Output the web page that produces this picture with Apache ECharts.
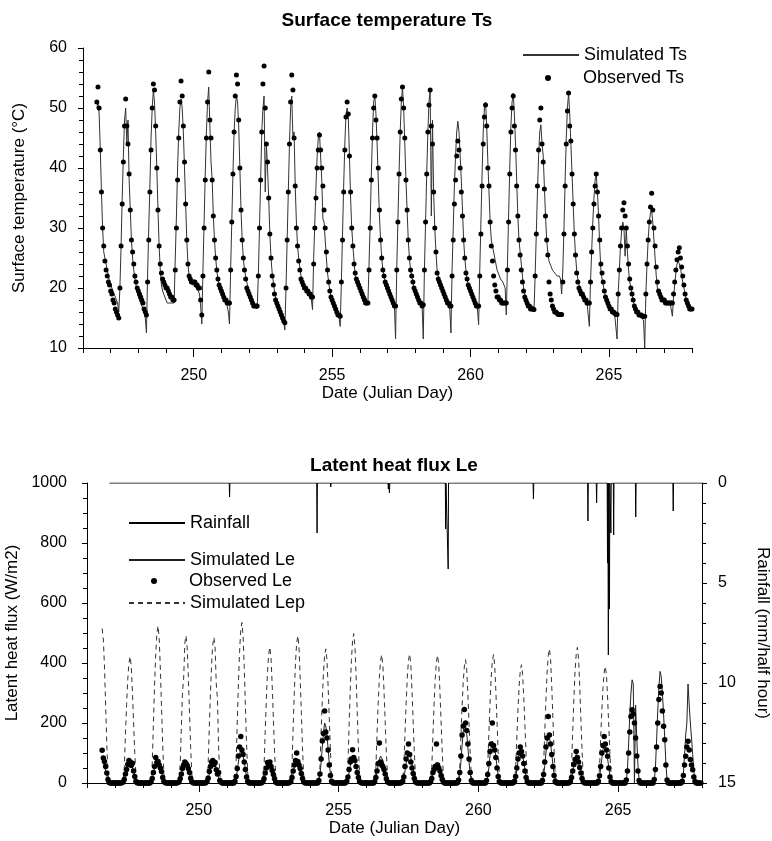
<!DOCTYPE html>
<html>
<head>
<meta charset="utf-8">
<script src="https://cdn.jsdelivr.net/npm/echarts@6/dist/echarts.min.js"></script>
<style>
  html, body { margin: 0; padding: 0; background: #fff; }
  #main { width: 772px; height: 841px; }
</style>
</head>
<body>
<div id="main"></div>
<script>
// Julian day of the first row in every table below
const firstDay = 246;
const xMajor = [250, 255, 260, 265];

// Surface temperature (deg C), one row per day, hours 0..23
const tsObs = [
  [null,null,null,null,null,null,null,null,null,null,null,null,51,53.5,50,43,36,30,27,24.5,23,22,21,20.5],
  [19.5,19,18,17.5,16.5,16,15.5,15,20,27,34,41,47,51.5,47,44,39,33,28,26,24,22,21,20],
  [19.5,19,18.5,18,17.5,16.5,16,15.5,21,28,36,43,50,54,53,47,40,33,27,24,22.5,21.5,21,20.5],
  [20,20,19.5,19,18.5,18.5,18,18,23,30,38,45,51,54.5,52,47,41,34,28,24,22,21.5,21,21],
  [21,21,20.5,20.5,20,20,18,15.5,22,30,38,45,51,56,48,45,38,32,28,25,23,21.5,20.5,20],
  [19.5,19,18.5,18,18,17.5,17.5,17.5,23,31,39,46,52,55.5,54,48,40,33,28,25,23,21.5,20,19.5],
  [19,18.5,18,17.5,17,17,17,17,22,30,38,46,54,57,50,44,41,35,29,25,22,20.5,19,18],
  [17.5,17,16.5,16,15.5,15,14.5,14.2,20,28,36,44,51,55.5,53,45,37,30,27,24.5,23,21.5,21,20.5],
  [20,20,19.5,19.5,19,19,18.5,18.5,24,30,35,40,43,45.5,43,40,37,33,30,26,23,21,19.5,18.5],
  [18,17.5,17,16.5,16,15.5,15.5,15.3,21,28,36,43,48.5,51,49,42,36,30,27,24,22.5,21.5,21,20.5],
  [20,19.5,19,18.5,18,17.5,17.5,17.5,23,30,38,45,50,52,48,45,40,33,28,25,23,22,21,20.5],
  [20,19.5,19,18.5,18,17.5,17,17,23,31,39,46,51.5,53.5,50,45,38,33,28,25,23,22,21,20],
  [19.5,19,18.5,18,17.5,17.5,17,17.2,23,31,39,46,50.5,53,47,44,36,30,26,22.5,21.5,21,20.5,20],
  [19.5,19,18.5,18,17.5,17.5,17,17,22,28,34,38,42,44.5,43,40,36,32,28,25,22.5,21.5,20.5,20],
  [19.5,19,18.5,18,17.5,17,17,17,22,29,37,44,48.5,50.5,47,40,37,31,27,24.5,22,20.5,19.5,18.5],
  [18.5,18,18,17.5,17.5,17.5,17.5,17.5,23,31,39,46,50,52,47,43,37,32,28,25.5,23,21,19.5,18.5],
  [18,17.5,17,17,16.5,16.5,16.5,16.4,22,29,37,43,48,50,44,41,36.5,32,28,25.5,21,19,18,17],
  [16.5,16,16,15.8,15.6,15.6,15.6,15.6,21,29,37,44,49.5,52.5,47,44.5,39,34,29,25.5,22.5,21,20,19.5],
  [19,19,18.5,18,18,17.5,17.5,17.5,21,26,30,34,37,39,36,32,28,24,22.5,21,19.5,18.5,18,17.5],
  [17,16.5,16.5,16,16,15.8,15.6,15.6,19,23,27,30,33,34.2,32,30,27,24,21.5,20,19,18,17,16.5],
  [16,16,15.5,15.5,15.5,15.3,15.3,15.3,19,24,28,31,33.5,35.8,33,30,27,23.5,21,19.5,19,18.5,18,18],
  [18,17.5,17.5,17.5,17.5,17.5,17.5,17.5,19,21,23,24.7,26,26.7,25,23.5,22,20.5,19,18,17.5,17,16.5,16.5],
  [16.5]
];

const tsSim = [
  [null,null,null,null,null,null,null,null,null,null,null,null,50,51,49,43,36,30,26,25,24,23,22,21],
  [20.5,20,19.5,19,18.5,18,17.5,16,20,27,35,42,48,50,44,48,38,33,28,25,23,21.5,20.5,19.5],
  [18.5,18,17.5,17,16.5,16,15,12.5,22,30,37,45,50,53,51,46,40,33,27,23,20.5,19.5,19,18.5],
  [18,17.5,17.5,17.5,17.5,17.5,17.5,17.5,25,32,40,46,50,51.5,50,46,40,34,28,24,22,21,21,20.5],
  [20.5,20.5,20,20,19.5,19,17,14,23,31,39,46,51,53.5,47,41,38,32,28,25,23,21.5,20.5,20],
  [19.5,19,18.5,18,17.5,17,16,14,23,31,39,46,50,52,51,47,40,33,28,25,23,22,21,20],
  [19.5,19,18.5,18,17.5,17,17,16.5,22,30,38,46,50,52,36,44,40,35,29,25,22.5,21,19.5,18.5],
  [18,17,16.5,16,15.5,15,14.5,13,20,28,36,44,50,52,45,46,37,31,27,25,23.5,22,21,20.5],
  [20,20,19.5,19.5,19,18.5,18,16.4,25,31,37,42,45,46,42,38,31.5,31,28,25,22.5,21,19.5,18.5],
  [18,17.5,17,16.5,16,15.5,15,13.6,21,29,37,44,49,50,48.5,42,35,30,27,24.5,22,21,20.5,20],
  [20,19.5,19.5,19,19,18.5,18,17.5,24,31,39,46,51,52,49,44,38,32,28,25,23,22,21,20.5],
  [20,19.5,19,18.5,18,17.5,17,11.5,23,31,39,46,51,53.5,50,44,38,33,28,25,23,22,21,20],
  [19.5,19,18.5,18,17.5,17.5,17,11.5,23,31,39,46,51,53,32,48,36,30,26,23,22,21,20.5,20],
  [19.5,19,18.5,18,17.5,17,16.5,12.5,23,30,37,42,46,47.8,46,42,38,33,28,25,23,21.5,20.5,20],
  [19.5,19,18.5,18,17.5,17,16.5,13.9,23,31,39,46,50,51,47,41,36,31,28,27,26,25,24,23],
  [22.5,22,21.5,21.5,21,21,20,15.5,24,32,40,47,51,52.5,49,44,38,32,28,26,24,22,20,19],
  [18.5,18,17.5,17.5,17,17,17,16,22,29,36,42,46,47.2,44,42,37,32,28,26,24.5,24,23.5,23],
  [23,22.5,22.5,22,22,22,21.5,19,23,30,38,45,50,52.5,49,44,39,34,29,25.5,23,21.5,20.5,20],
  [19.5,19,18.5,18,18,17.5,17.5,13.6,21,26,31,35,38,39,36,32,27,23,21.5,20.5,19.5,18.5,18,17.5],
  [17,16.5,16.5,16,16,15.5,15.5,11.5,19,23,27,29.5,31,30,25.3,30,26,23,21,20,19,18,17,16.5],
  [16,16,15.5,15.5,15.5,15,14.5,10,19,24,28,31,32.5,33,31,28,25,22,20,19,18.5,18,18,18],
  [18,18,18,17.5,17.5,17.5,17.5,15.3,18.5,20.5,22.5,24,24.5,24.5,23.5,22,21,20,19,18,17.5,17,16.5,16.5],
  [16.5]
];

// Latent heat flux (W/m2), one row per day, hours 6..19; the traces sit on 0 at night
const leStart = 246 + 13 / 24;
const leObs = [
  [null,null,null,null,null,null,null,109,83,72,55,33,12,2],
  [1,3,12,30,45,62,75,70,58,66,40,22,6,1],
  [0,4,15,35,55,85,68,72,60,50,38,18,5,2],
  [2,3,14,30,48,60,70,65,58,48,35,16,4,1],
  [1,5,16,38,55,70,75,62,68,44,30,35,8,3],
  [0,6,22,48,90,120,155,110,95,70,45,20,6,1],
  [1,4,14,33,50,68,62,70,55,42,28,14,3,0],
  [2,5,18,40,60,75,100,72,60,48,32,15,4,1],
  [0,8,30,80,140,165,240,170,150,110,60,25,6,1],
  [1,6,20,45,70,80,111,85,75,55,35,18,5,2],
  [0,5,18,40,65,133,70,60,55,45,30,14,4,1],
  [2,6,20,55,80,100,130,95,70,50,32,15,4,1],
  [0,5,15,35,45,55,130,60,50,40,25,12,3,0],
  [1,10,35,90,160,190,245,200,175,130,80,35,8,1],
  [0,8,28,65,105,130,200,125,110,85,50,22,5,1],
  [1,6,22,50,80,100,120,105,90,65,40,18,5,0],
  [0,8,28,70,120,150,222,160,130,95,55,25,6,1],
  [1,5,18,40,62,78,105,85,70,52,33,15,4,1],
  [0,6,24,55,100,125,155,130,110,89,50,20,5,0],
  [0,10,40,100,170,222,244,230,200,150,90,40,8,0],
  [0,12,45,120,200,278,322,300,240,189,144,60,10,0],
  [0,6,25,60,89,120,139,110,78,60,44,20,5,0]
];

const leSim = [
  [null,null,null,null,null,null,null,80,70,55,40,25,8,0],
  [0,2,10,28,42,58,70,68,62,50,36,18,4,0],
  [0,2,12,32,50,65,75,72,64,52,38,18,4,0],
  [0,2,10,28,44,56,65,63,57,46,33,16,3,0],
  [0,2,11,30,47,60,70,67,60,49,35,17,4,0],
  [0,3,15,40,70,95,110,105,90,70,45,20,5,0],
  [0,2,10,28,44,57,65,63,56,45,32,15,3,0],
  [0,2,12,33,52,68,80,76,66,53,37,17,4,0],
  [0,5,25,70,120,165,200,190,160,115,65,28,6,0],
  [0,3,13,35,56,73,85,82,72,57,40,19,4,0],
  [0,3,14,37,60,78,90,86,76,60,42,20,5,0],
  [0,3,15,40,66,86,100,96,84,66,46,22,5,0],
  [0,2,11,30,47,60,70,67,60,48,34,16,4,0],
  [0,5,25,70,125,170,200,192,165,120,70,30,6,0],
  [0,4,20,50,90,120,140,134,115,88,55,25,5,0],
  [0,3,15,42,72,95,110,105,90,70,46,21,5,0],
  [0,4,22,58,100,138,160,152,130,98,62,28,6,0],
  [0,3,14,38,62,82,95,91,80,62,42,20,5,0],
  [0,3,18,48,82,112,130,124,106,80,52,24,5,0],
  [0,8,45,130,230,300,344,330,0,260,150,60,10,0],
  [0,8,50,140,240,320,372,355,300,230,150,65,10,0],
  [0,6,30,90,160,200,330,260,200,150,95,40,8,0]
];

// potential Le; on days 265-267 it lies under the simulated Le trace
const lepSim = [
  [null,null,null,null,null,null,null,515,480,390,260,130,30,0],
  [0,8,50,160,262,346,400,422,388,304,203,101,25,0],
  [0,10,63,199,325,430,498,524,482,377,252,126,31,0],
  [0,9,59,187,304,350,466,491,452,354,236,118,29,0],
  [0,9,58,185,301,399,462,486,447,330,280,117,29,0],
  [0,10,64,203,332,439,508,535,492,385,257,128,32,0],
  [0,8,54,172,281,371,430,453,417,326,217,109,27,0],
  [0,9,59,187,304,403,466,491,452,354,236,118,29,0],
  [0,8,54,170,277,367,425,447,411,322,215,107,27,0],
  [0,9,60,189,309,408,473,498,458,359,239,120,30,0],
  [0,8,51,163,265,351,407,428,394,308,205,103,26,0],
  [0,8,52,163,267,353,409,430,396,310,206,103,26,0],
  [0,8,51,162,264,349,405,426,392,307,204,102,26,0],
  [0,8,49,156,255,337,390,411,378,296,197,99,25,0],
  [0,8,51,163,265,351,407,428,394,308,205,103,26,0],
  [0,7,47,150,244,323,374,394,362,284,189,95,24,0],
  [0,8,54,170,277,367,425,447,411,322,215,107,27,0],
  [0,8,54,172,280,371,429,452,416,325,217,108,27,0],
  [0,7,47,148,241,319,370,389,358,280,187,93,23,0]
];

// rainfall events (mm per half hour); zero elsewhere
const rainStart = 246.8;
const rainEnd = 268;
const rainDay = [249.2, 251.1, 254.23, 254.72, 256.78, 256.82, 258.83, 258.92, 261.97, 263.92, 264.23, 264.62, 264.65, 264.69, 264.74, 264.84, 265.63, 266.97];
const rainMm = [0.1, 0.7, 2.5, 0.2, 0.3, 0.5, 2.3, 4.3, 0.8, 1.9, 1.0, 4.0, 8.6, 6.3, 2.5, 2.6, 1.7, 1.4];

function hourly(rows) {
  const out = [];
  rows.forEach((row, i) => {
    row.forEach((v, h) => {
      if (v !== null) out.push([firstDay + i + h / 24, v]);
    });
  });
  return out;
}

function daytime(rows) {
  const out = [];
  rows.forEach((row, i) => {
    for (let h = 0; h < 24; h++) {
      const t = firstDay + i + h / 24;
      if (t < leStart - 1e-6) continue;
      const v = (h >= 6 && h <= 19) ? row[h - 6] : 0;
      if (v === null) continue;
      out.push([t, v]);
    }
  });
  return out;
}

function rainTrace() {
  const out = [[rainStart, 0]];
  rainDay.forEach((d, k) => {
    out.push([d - 0.012, 0], [d, rainMm[k]], [d + 0.012, 0]);
  });
  out.push([rainEnd, 0]);
  return out;
}

const font = '"Liberation Sans", Arial, Helvetica, sans-serif';
const black = '#000';
const txt = { color: black, fontFamily: font };

function xMajorAxis(gridIndex) {
  return {
    type: 'value', gridIndex: gridIndex, min: 246, max: 268, position: 'bottom',
    name: 'Date (Julian Day)', nameLocation: 'middle', nameGap: 37,
    nameTextStyle: { ...txt, fontSize: 17 },
    axisLine: { show: true, onZero: false, lineStyle: { color: black, width: 1 } },
    axisTick: { show: true, length: 9, customValues: xMajor, lineStyle: { color: black } },
    axisLabel: { customValues: xMajor, margin: 20, fontSize: 16, ...txt },
    splitLine: { show: false }
  };
}

function xMinorAxis(gridIndex) {
  return {
    type: 'value', gridIndex: gridIndex, min: 246, max: 268, interval: 1, position: 'bottom',
    axisLine: { show: true, onZero: false, lineStyle: { color: black, width: 1 } },
    axisTick: { show: true, length: 5, lineStyle: { color: black } },
    axisLabel: { show: false },
    splitLine: { show: false }
  };
}

const legendText = { ...txt, fontSize: 18 };
const lineKey = { padding: 0, itemWidth: 56, itemHeight: 12, itemStyle: { opacity: 0 }, textStyle: legendText };
const dotKey = { padding: 0, itemWidth: 6, itemHeight: 6, icon: 'circle', textStyle: { ...legendText, padding: [0, 0, 0, 27] } };

const option = {
  animation: false,
  backgroundColor: '#fff',
  title: [
    { text: 'Surface temperature Ts', left: 387, top: 11, textAlign: 'center', padding: 0,
      textStyle: { ...txt, fontSize: 19, fontWeight: 'bold' } },
    { text: 'Latent heat flux Le', left: 394, top: 456, textAlign: 'center', padding: 0,
      textStyle: { ...txt, fontSize: 19, fontWeight: 'bold' } }
  ],
  legend: [
    { ...lineKey, data: ['Simulated Ts'], left: 522, top: 46 },
    { ...dotKey, data: ['Observed Ts'], left: 545, top: 69 },
    { ...lineKey, data: ['Rainfall'], left: 128, top: 514 },
    { ...lineKey, data: ['Simulated Le'], left: 128, top: 551 },
    { ...dotKey, data: ['Observed Le'], left: 151, top: 572 },
    { ...lineKey, data: ['Simulated Lep'], left: 128, top: 594 }
  ],
  grid: [
    { left: 83, top: 48, width: 609, height: 300, outerBoundsMode: 'none' },
    { left: 87, top: 483, width: 615, height: 300, outerBoundsMode: 'none' }
  ],
  xAxis: [xMajorAxis(0), xMinorAxis(0), xMajorAxis(1), xMinorAxis(1)],
  yAxis: [
    {
      type: 'value', gridIndex: 0, min: 10, max: 60, interval: 10,
      name: 'Surface temperature (°C)', nameLocation: 'middle', nameGap: 55,
      nameTextStyle: { ...txt, fontSize: 17 },
      axisLine: { show: true, lineStyle: { color: black } },
      axisTick: { show: true, length: 5, lineStyle: { color: black } },
      minorTick: { show: true, splitNumber: 5, length: 4, lineStyle: { color: black } },
      axisLabel: { margin: 16, fontSize: 16, ...txt },
      splitLine: { show: false }
    },
    {
      type: 'value', gridIndex: 1, min: 0, max: 1000, interval: 200,
      name: 'Latent heat flux (W/m2)', nameLocation: 'middle', nameGap: 57,
      nameTextStyle: { ...txt, fontSize: 17 },
      axisLine: { show: true, lineStyle: { color: black } },
      axisTick: { show: true, length: 5, lineStyle: { color: black } },
      minorTick: { show: true, splitNumber: 4, length: 4, lineStyle: { color: black } },
      axisLabel: { margin: 20, fontSize: 16, ...txt, formatter: v => String(v) },
      splitLine: { show: false }
    },
    {
      type: 'value', gridIndex: 1, min: 0, max: 15, interval: 5, inverse: true, position: 'right',
      name: 'Rainfall (mm/half hour)', nameLocation: 'middle', nameGap: 52, nameRotate: -90,
      nameTextStyle: { ...txt, fontSize: 17 },
      axisLine: { show: true, lineStyle: { color: black } },
      axisTick: { show: true, length: 5, lineStyle: { color: black } },
      minorTick: { show: true, splitNumber: 5, length: 4, lineStyle: { color: black } },
      axisLabel: { margin: 16, fontSize: 16, ...txt },
      splitLine: { show: false }
    }
  ],
  series: [
    {
      name: 'Simulated Ts', type: 'line', xAxisIndex: 0, yAxisIndex: 0,
      data: hourly(tsSim), symbol: 'none', z: 2,
      lineStyle: { color: '#333', width: 1 }, itemStyle: { color: '#333' }
    },
    {
      name: 'Observed Ts', type: 'scatter', xAxisIndex: 0, yAxisIndex: 0,
      data: hourly(tsObs), symbolSize: 5, z: 3,
      itemStyle: { color: black, opacity: 1 }
    },
    {
      name: 'Rainfall', type: 'line', xAxisIndex: 2, yAxisIndex: 2,
      data: rainTrace(), symbol: 'none', z: 2,
      lineStyle: { color: black, width: 1 }, itemStyle: { color: black }
    },
    {
      name: 'Simulated Le', type: 'line', xAxisIndex: 2, yAxisIndex: 1,
      data: daytime(leSim), symbol: 'none', z: 2,
      lineStyle: { color: '#222', width: 1 }, itemStyle: { color: '#222' }
    },
    {
      name: 'Observed Le', type: 'scatter', xAxisIndex: 2, yAxisIndex: 1,
      data: daytime(leObs), symbolSize: 5.5, z: 3,
      itemStyle: { color: black, opacity: 1 }
    },
    {
      name: 'Simulated Lep', type: 'line', xAxisIndex: 2, yAxisIndex: 1,
      data: daytime(lepSim), symbol: 'none', z: 2,
      lineStyle: { color: '#333', width: 1, type: [5, 4] }, itemStyle: { color: '#333' }
    }
  ]
};

const chart = echarts.init(document.getElementById('main'), null, { renderer: 'canvas' });
chart.setOption(option);
</script>
</body>
</html>
